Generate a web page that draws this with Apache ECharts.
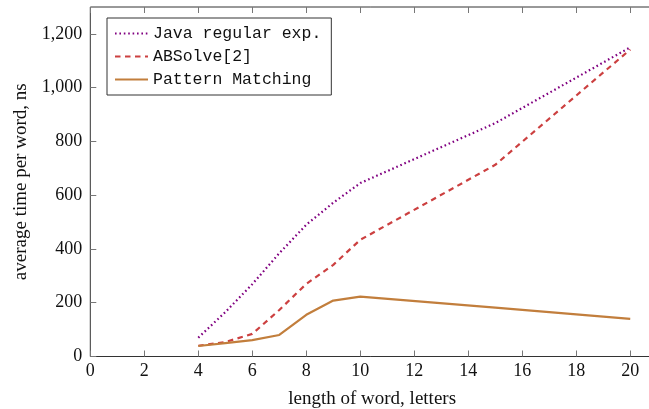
<!DOCTYPE html>
<html>
<head>
<meta charset="utf-8">
<script src="https://cdn.jsdelivr.net/npm/echarts@6/dist/echarts.min.js"></script>
<style>html,body{margin:0;padding:0;background:#fff}#c{width:649px;height:409px}</style>
</head>
<body>
<div id="c"></div>
<script>
var lengths = [4, 5, 6, 7, 8, 9, 10, 15, 20];
var javaRegex = [70, 165, 269, 384, 490, 572, 645, 868, 1150];
var absolve = [40, 54, 84, 173, 270, 341, 434, 713, 1142];
var patternMatching = [39, 50, 61, 80, 155, 208, 223, 182, 140];
var seriesNames = ['Java regular exp.', 'ABSolve[2]', 'Pattern Matching'];
var xTitle = 'length of word, letters';
var yTitle = 'average time per word, ns';

function pairs(xs, ys) { return xs.map(function (x, i) { return [x, ys[i]]; }); }

var serif = '"Liberation Serif", "DejaVu Serif", serif';
var mono = '"Liberation Mono", "DejaVu Sans Mono", monospace';
var tickStyle = { show: true, inside: true, length: 6, lineStyle: { color: '#777', width: 1 } };

var chart = echarts.init(document.getElementById('c'), null, { renderer: 'canvas' });
chart.setOption({
  animation: false,
  backgroundColor: '#fff',
  grid: { left: 90.3, right: -5, top: 7, bottom: 52.5, outerBoundsMode: 'none', containLabel: false,
          show: true, borderColor: '#333', borderWidth: 1, backgroundColor: 'transparent' },
  legend: {
    orient: 'vertical', left: 107, top: 18,
    borderColor: '#333', borderWidth: 1, padding: [7, 10, 7, 7],
    itemWidth: 33, itemHeight: 14, itemGap: 6,
    itemStyle: { opacity: 0 },
    textStyle: { fontFamily: mono, fontSize: 16.5, color: '#111', lineHeight: 16 },
    data: seriesNames
  },
  xAxis: [{
    type: 'value', min: 0, max: 20.88, interval: 2,
    axisLine: { show: false }, splitLine: { show: false },
    axisTick: tickStyle,
    axisLabel: { fontFamily: serif, fontSize: 18, color: '#111', margin: 6, showMaxLabel: false },
    name: xTitle, nameLocation: 'middle', nameGap: 33,
    nameTextStyle: { fontFamily: serif, fontSize: 19, color: '#111' }
  }, {
    type: 'value', position: 'top', min: 0, max: 20.88, interval: 2,
    axisLine: { show: false }, splitLine: { show: false },
    axisTick: tickStyle, axisLabel: { show: false }
  }],
  yAxis: [{
    type: 'value', min: 0, max: 1300, interval: 200,
    axisLine: { show: false }, splitLine: { show: false },
    axisTick: tickStyle,
    axisLabel: {
      fontFamily: serif, fontSize: 18, color: '#111', margin: 8, showMaxLabel: false,
      formatter: function (v) { return v.toLocaleString('en-US'); }
    },
    name: yTitle, nameLocation: 'middle', nameGap: 60,
    nameTextStyle: { fontFamily: serif, fontSize: 19, color: '#111' }
  }],
  series: [{
    name: seriesNames[0], type: 'line', symbol: 'none', data: pairs(lengths, javaRegex),
    itemStyle: { color: '#800080' },
    lineStyle: { color: '#800080', width: 2.2, type: [1.6, 2.8], cap: 'butt' }
  }, {
    name: seriesNames[1], type: 'line', symbol: 'none', data: pairs(lengths, absolve),
    itemStyle: { color: '#CC4040' },
    lineStyle: { color: '#CC4040', width: 2.2, type: [5.5, 4.5], cap: 'butt' }
  }, {
    name: seriesNames[2], type: 'line', symbol: 'none', data: pairs(lengths, patternMatching),
    itemStyle: { color: '#C27E3C' },
    lineStyle: { color: '#C27E3C', width: 2.2 }
  }]
});
</script>
</body>
</html>
